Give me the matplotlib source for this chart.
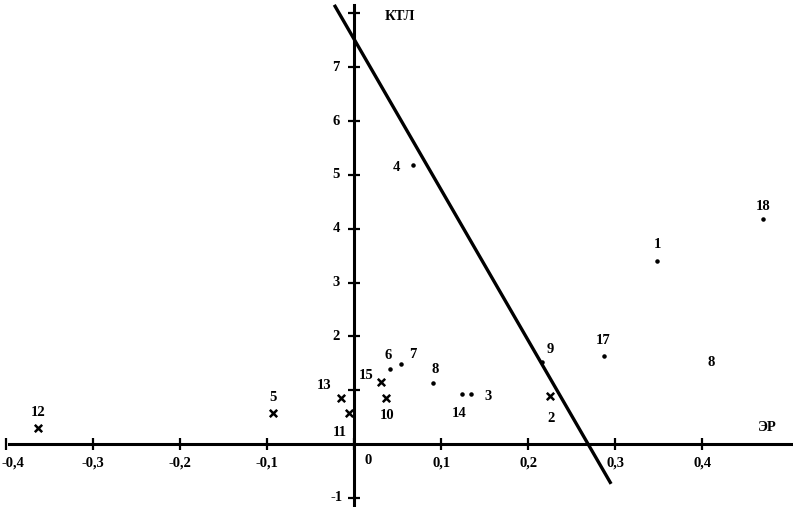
import numpy as np
import matplotlib.pyplot as plt

plt.rcParams['font.family'] = ['Liberation Serif', 'DejaVu Serif']
plt.rcParams['font.weight'] = 'bold'

# точки: ЭР, КТЛ
cross_lbl = ['12', '5', '13', '11', '10', '15', '2']
cross_x = [-0.363, -0.093, -0.015, -0.006, 0.036, 0.031, 0.225]
cross_y = [0.30, 0.58, 0.86, 0.58, 0.86, 1.15, 0.89]

dot_lbl = ['6', '7', '8', '14', '3', '9', '17', '1', '18', '4', '8']
dot_x = [0.041, 0.054, 0.090, 0.124, 0.134, 0.216, 0.287, 0.348, 0.470, 0.068, 0.410]
dot_y = [1.39, 1.49, 1.13, 0.93, 0.93, 1.52, 1.64, 3.40, 4.18, 5.19, 1.52]

# смещения подписей (пункты)
cross_off = [(0, 11), (0, 11), (-12, 9), (-7, -14), (1, -13), (-11, 5), (1, -16)]
dot_off = [(-1, 10), (8, 7), (2, 10), (-2, -14), (12, -2), (6, 9), (-1, 11), (0, 12), (0, 9), (-12, -2), (0, 0)]

# разделяющая прямая
line_x = [-0.023, 0.295]
line_y = [8.16, -0.74]

xt = [-0.4, -0.3, -0.2, -0.1, 0, 0.1, 0.2, 0.3, 0.4]
xt_lbl = ['-0,4', '-0,3', '-0,2', '-0,1', '0', '0,1', '0,2', '0,3', '0,4']
yt = [-1, 1, 2, 3, 4, 5, 6, 7, 8]
yt_lbl = ['-1', '', '2', '3', '4', '5', '6', '7', '']

fig = plt.figure(figsize=(7.93, 5.07), dpi=100)
ax = fig.add_axes([0, 0, 1, 1])
ax.set_xlim(-0.407, 0.504)
ax.set_ylim(-1.17, 8.25)

for s in ['top', 'right']:
    ax.spines[s].set_visible(False)
ax.spines['left'].set_position(('data', 0))
ax.spines['bottom'].set_position(('data', 0))
ax.spines['left'].set_linewidth(2.2)
ax.spines['bottom'].set_linewidth(2.2)
ax.spines['left'].set_bounds(-1.17, 8.15)
ax.spines['bottom'].set_bounds(-0.397, 0.504)
ax.set_xticks(xt)
ax.set_yticks(yt)
ax.tick_params(direction='inout', length=9, width=1.6, labelbottom=False, labelleft=False)

fs = 10.5
for x, t in zip(xt, xt_lbl):
    if t == '0':
        ax.annotate(t, (x, 0), xytext=(10, -12), textcoords='offset points', ha='center', va='center', fontsize=fs)
    elif t == '-0,4':
        ax.annotate(t, (x, 0), xytext=(-3.5, -14), textcoords='offset points', ha='left', va='center', fontsize=fs)
    else:
        ax.annotate(t, (x, 0), xytext=(0, -14), textcoords='offset points', ha='center', va='center', fontsize=fs)
for y, t in zip(yt, yt_lbl):
    ax.annotate(t, (0, y), xytext=(-13, 0), textcoords='offset points', ha='center', va='center', fontsize=fs)

ax.plot(line_x, line_y, color='black', lw=2.4, solid_capstyle='butt')

ax.scatter(cross_x, cross_y, marker='x', s=28, color='black', linewidths=1.8)
ax.scatter(dot_x[:-1], dot_y[:-1], marker='o', s=5, color='black')

for x, y, t, o in zip(cross_x, cross_y, cross_lbl, cross_off):
    ax.annotate(t, (x, y), xytext=o, textcoords='offset points', ha='center', va='center', fontsize=fs)
for x, y, t, o in zip(dot_x, dot_y, dot_lbl, dot_off):
    ax.annotate(t, (x, y), xytext=o, textcoords='offset points', ha='center', va='center', fontsize=fs)

ax.text(0.052, 7.95, 'КТЛ', ha='center', va='center', fontsize=fs)
ax.text(0.475, 0.3, 'ЭР', ha='center', va='center', fontsize=fs)

fig.savefig('out.png', dpi=100)
